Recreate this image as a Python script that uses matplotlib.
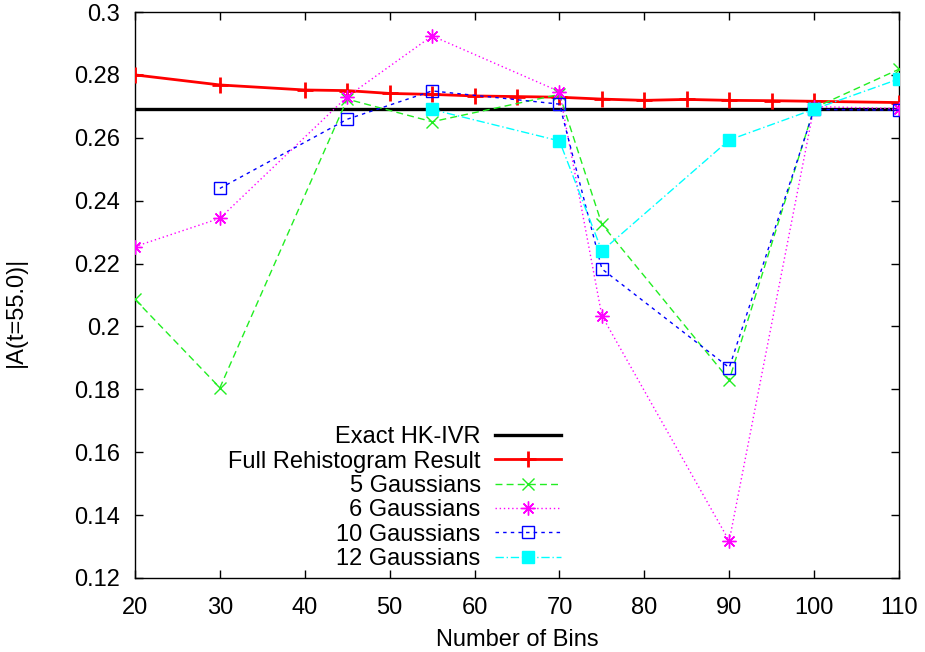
import numpy as np
import matplotlib
matplotlib.use('Agg')
import matplotlib.pyplot as plt

plt.rcParams['font.family'] = ['Liberation Sans', 'DejaVu Sans']
plt.rcParams['font.size'] = 17

# data
exact = 0.269

bins_full = [20, 30, 40, 45, 50, 55, 60, 65, 70, 75, 80, 85, 90, 95, 100, 110]
full = [0.2800, 0.2768, 0.2752, 0.2750, 0.2741, 0.2738, 0.2733, 0.2731,
        0.2729, 0.2723, 0.2719, 0.2722, 0.2719, 0.2718, 0.2716, 0.2712]

bins_g5 = [20, 30, 45, 55, 70, 75, 90, 100, 110]
g5 = [0.2086, 0.1805, 0.2723, 0.2651, 0.2738, 0.2325, 0.1830, 0.2695, 0.2818]

bins_g6 = [20, 30, 45, 55, 70, 75, 90, 100, 110]
g6 = [0.2254, 0.2344, 0.2731, 0.2924, 0.2747, 0.2034, 0.1318, 0.2699, 0.2693]

bins_g10 = [30, 45, 55, 70, 75, 90, 100, 110]
g10 = [0.2439, 0.2659, 0.2749, 0.2707, 0.2183, 0.1869, 0.2690, 0.2688]

bins_g12 = [55, 70, 75, 90, 100, 110]
g12 = [0.2690, 0.2590, 0.2240, 0.2593, 0.2691, 0.2787]

fig = plt.figure(figsize=(9.25, 6.52), dpi=100)
ax = fig.add_axes([135/925, 74/652, 764/925, 566/652])

ax.axhline(exact, color='black', lw=2.4, label='Exact HK-IVR', zorder=2)
ax.plot(bins_full, full, color='#ff0000', lw=2, marker='+', ms=11, mew=2,
        label='Full Rehistogram Result', zorder=3)
ax.plot(bins_g5, g5, color='#22ee22', lw=1, ls=(0, (5, 3)), marker='x', ms=9, mew=1,
        label='5 Gaussians', zorder=4)
ax.plot(bins_g6, g6, color='#ff00ff', lw=1, ls=(0, (1, 2)), marker=(8, 2, 0), ms=10, mew=1,
        label='6 Gaussians', zorder=4)
ax.plot(bins_g10, g10, color='#0000ff', lw=1, ls=(0, (2.5, 3)), marker='s', ms=9, mew=1,
        mfc='none', label='10 Gaussians', zorder=4)
ax.plot(bins_g12, g12, color='#00ffff', lw=1, ls=(0, (6, 2, 1, 2)), marker='s', ms=9,
        label='12 Gaussians', zorder=4)

ax.set_xlim(20, 110)
ax.set_ylim(0.12, 0.3)
ax.set_xticks(np.arange(20, 111, 10))
ax.set_yticks(np.arange(0.12, 0.301, 0.02))
ax.set_yticklabels(['0.12', '0.14', '0.16', '0.18', '0.2', '0.22', '0.24',
                    '0.26', '0.28', '0.3'])
ax.tick_params(direction='in', length=6, width=1, top=True, right=True)
ax.tick_params(axis='x', pad=14)
ax.tick_params(axis='y', pad=11)
for s in ax.spines.values():
    s.set_linewidth(1)

ax.set_xlabel('Number of Bins', labelpad=7)
ax.set_ylabel('|A(t=55.0)|')
ax.yaxis.set_label_coords(-0.142, 0.47)

leg = ax.legend(loc='lower right', bbox_to_anchor=(561/925, 74/652 + 8/652),
                bbox_transform=fig.transFigure, markerfirst=False, frameon=False,
                labelspacing=0.1, handlelength=2.8, handletextpad=0.6,
                borderpad=0, borderaxespad=0, fontsize=17)

fig.savefig('out.png', dpi=100)
